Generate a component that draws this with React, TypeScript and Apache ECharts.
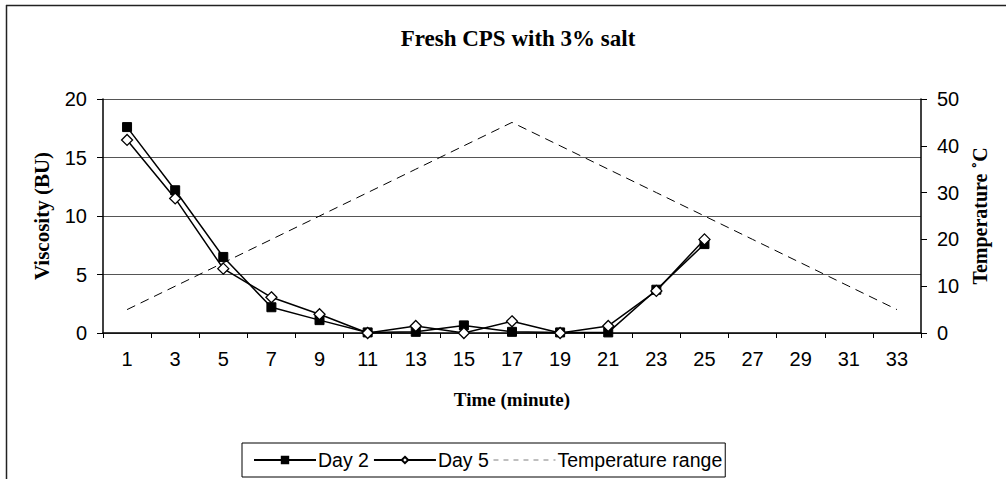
import React, { useEffect, useRef } from "react";
import * as echarts from "echarts";

const timeLabels = ["1", "3", "5", "7", "9", "11", "13", "15", "17", "19", "21", "23", "25", "27", "29", "31", "33"];
const day2 = [17.6, 12.2, 6.5, 2.2, 1.1, 0.05, 0.1, 0.65, 0.1, 0.05, 0.05, 3.7, 7.6, null, null, null, null];
const day5 = [16.5, 11.5, 5.5, 3.05, 1.6, 0, 0.6, 0, 1.0, 0, 0.6, 3.6, 8.0, null, null, null, null];
const temperature = [5, 10, 15, 20, 25, 30, 35, 40, 45, 40, 35, 30, 25, 20, 15, 10, 5];

const SANS = "'Liberation Sans', Arial, sans-serif";
const SERIF = "'Liberation Serif', 'Times New Roman', serif";

export default function App() {
  const ref = useRef<HTMLDivElement>(null);
  useEffect(() => {
    if (!ref.current) return;
    const chart = echarts.init(ref.current, null, { renderer: "svg" });
    chart.setOption({
      animation: false,
      backgroundColor: "#ffffff",
      title: {
        text: "Fresh CPS with 3% salt",
        left: 513,
        textAlign: "center",
        top: 22,
        textStyle: { fontFamily: SERIF, fontWeight: "bold", fontSize: 23, color: "#000" },
      },
      graphic: [
        { type: "line", shape: { x1: 6, y1: 5.5, x2: 1006, y2: 5.5 }, style: { stroke: "#222", lineWidth: 1.5 } },
        { type: "line", shape: { x1: 6.5, y1: 5, x2: 6.5, y2: 479 }, style: { stroke: "#222", lineWidth: 1.5 } },
      ],
      legend: {
        left: 242,
        top: 443,
        orient: "horizontal",
        borderColor: "#000",
        borderWidth: 1,
        padding: [7, 3, 7, 11],
        itemGap: 4,
        itemWidth: 62,
        itemHeight: 8,
        textStyle: { fontFamily: SANS, fontSize: 19.5, color: "#000", padding: [0, 0, 0, -3] },
        data: [
          "Day 2",
          "Day 5",
          {
            name: "Temperature range",
            itemStyle: { opacity: 0 },
            lineStyle: { color: "#808080", width: 1.2, type: [5, 5] },
          },
        ],
      },
      grid: { left: 103, right: 85, top: 99, bottom: 146 },
      xAxis: {
        type: "category",
        data: timeLabels,
        boundaryGap: true,
        name: "Time (minute)",
        nameLocation: "middle",
        nameGap: 57,
        nameTextStyle: { fontFamily: SERIF, fontWeight: "bold", fontSize: 19, color: "#000" },
        axisLine: { lineStyle: { color: "#000", width: 1.5 } },
        axisTick: { show: true, length: 5, lineStyle: { color: "#000" } },
        axisLabel: { fontFamily: SANS, fontSize: 20, color: "#000", margin: 16 },
        splitLine: { show: false },
      },
      yAxis: [
        {
          type: "value",
          min: 0,
          max: 20,
          interval: 5,
          position: "left",
          name: "Viscosity (BU)",
          nameLocation: "middle",
          nameRotate: 90,
          nameGap: 51,
          nameTextStyle: { fontFamily: SERIF, fontWeight: "bold", fontSize: 21, color: "#000" },
          axisLine: { show: true, lineStyle: { color: "#000", width: 1.5 } },
          axisTick: { show: true, length: 6, lineStyle: { color: "#000" } },
          axisLabel: { fontFamily: SANS, fontSize: 20, color: "#000", margin: 16 },
          splitLine: { show: true, lineStyle: { color: "#555", width: 1 } },
        },
        {
          type: "value",
          min: 0,
          max: 50,
          interval: 10,
          position: "right",
          name: "Temperature ˚C",
          nameLocation: "middle",
          nameRotate: 90,
          nameGap: 48,
          nameTextStyle: { fontFamily: SERIF, fontWeight: "bold", fontSize: 20, color: "#000" },
          axisLine: { show: true, lineStyle: { color: "#000", width: 1.5 } },
          axisTick: { show: true, length: 6, lineStyle: { color: "#000" } },
          axisLabel: { fontFamily: SANS, fontSize: 20, color: "#000", margin: 16 },
          splitLine: { show: false },
        },
      ],
      series: [
        {
          name: "Day 2",
          type: "line",
          yAxisIndex: 0,
          data: day2,
          symbol: "rect",
          symbolSize: 9,
          lineStyle: { color: "#000", width: 1.5 },
          itemStyle: { color: "#000", borderColor: "#000", borderWidth: 1 },
          z: 3,
        },
        {
          name: "Day 5",
          type: "line",
          yAxisIndex: 0,
          data: day5,
          symbol: "diamond",
          symbolSize: 11,
          lineStyle: { color: "#000", width: 1.5 },
          itemStyle: { color: "#fff", borderColor: "#000", borderWidth: 1.3 },
          z: 4,
        },
        {
          name: "Temperature range",
          type: "line",
          yAxisIndex: 1,
          data: temperature,
          symbol: "none",
          lineStyle: { color: "#000", width: 1, type: [9, 6] },
          itemStyle: { color: "#000" },
          z: 2,
        },
      ],
    });
    return () => chart.dispose();
  }, []);
  return <div ref={ref} style={{ position: "fixed", left: 0, top: 0, width: 1006, height: 479 }} />;
}
